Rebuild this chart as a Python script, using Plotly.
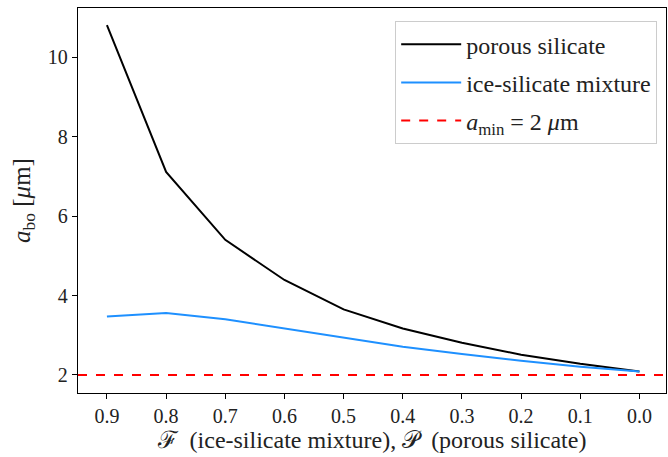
import plotly.graph_objects as go

fraction = [0.9, 0.8, 0.7, 0.6, 0.5, 0.4, 0.3, 0.2, 0.1, 0.0]
porous_silicate = [10.80, 7.11, 5.40, 4.39, 3.65, 3.17, 2.81, 2.51, 2.28, 2.09]
ice_silicate = [3.47, 3.56, 3.40, 3.17, 2.95, 2.71, 2.53, 2.36, 2.21, 2.09]
a_min = 2.0
x_tick_vals = [0.9, 0.8, 0.7, 0.6, 0.5, 0.4, 0.3, 0.2, 0.1, 0.0]
y_tick_vals = [2, 4, 6, 8, 10]
x_range = [0.9489, -0.0449]
y_range = [1.547, 11.233]

FONT = "Liberation Serif"

fig = go.Figure()
fig.add_trace(go.Scatter(x=fraction, y=porous_silicate, mode="lines", legendgroup="a",
                         line=dict(color="black", width=2), name="porous silicate"))
fig.add_trace(go.Scatter(x=fraction, y=ice_silicate, mode="lines", legendgroup="b",
                         line=dict(color="#1e90ff", width=2), name="ice-silicate mixture"))
fig.add_trace(go.Scatter(x=x_range, y=[a_min, a_min], mode="lines", legendgroup="c",
                         line=dict(color="red", width=2, dash="dash"),
                         name="<i>a</i><sub>min</sub> = 2 <i>μ</i>m"))

axis_common = dict(showline=True, linecolor="black", linewidth=1.3, mirror=True,
                   ticks="outside", ticklen=5, tickwidth=1.2, tickcolor="black",
                   showgrid=False, zeroline=False,
                   tickfont=dict(family=FONT, size=20, color="#222"))

fig.update_xaxes(range=x_range, tickvals=x_tick_vals,
                 ticktext=[f"{v:.1f}" for v in x_tick_vals],
                 title=dict(text="ℱ  (ice-silicate mixture), 𝒫  (porous silicate)",
                            font=dict(family=FONT, size=24, color="#222"), standoff=4),
                 **axis_common)
fig.update_yaxes(range=y_range, tickvals=y_tick_vals,
                 title=dict(text="<i>a</i><sub>bo</sub> [<i>μ</i>m]",
                            font=dict(family=FONT, size=25, color="#222"), standoff=10),
                 **axis_common)

fig.update_layout(
    width=668, height=457,
    margin=dict(l=78, r=2, t=8, b=64),
    plot_bgcolor="white", paper_bgcolor="white",
    font=dict(family=FONT, color="#222"),
    showlegend=True,
    legend=dict(x=0.985, y=0.966, xanchor="right", yanchor="top",
                bgcolor="rgba(255,255,255,0.8)", bordercolor="#ccc", borderwidth=1,
                font=dict(family=FONT, size=24, color="#222"),
                itemwidth=60, tracegroupgap=4),
)

fig.write_html("out.html", config={"displayModeBar": False},
               post_script="document.body.style.margin='0';")
